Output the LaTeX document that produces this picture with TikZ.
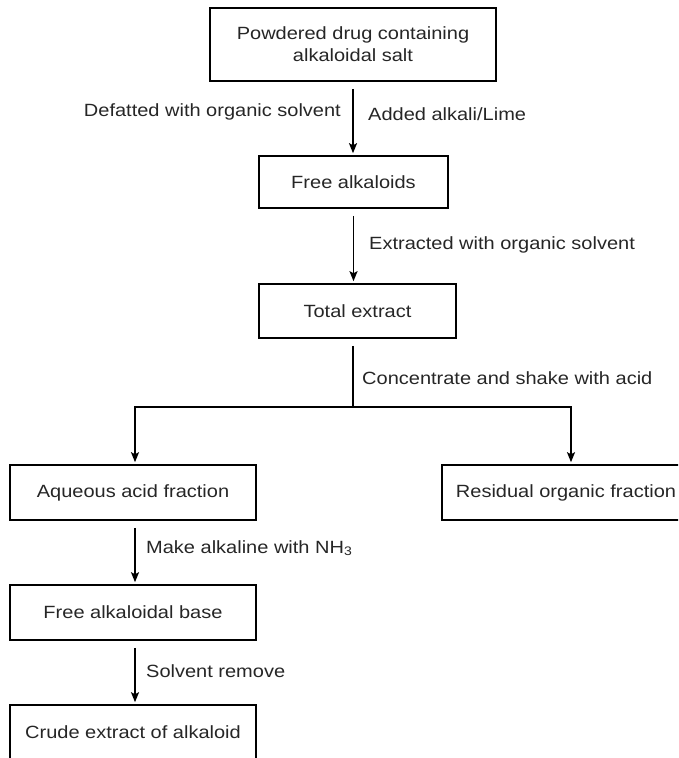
\documentclass[tikz,border=0pt]{standalone}
\usepackage{fontspec}
\setmainfont{Liberation Sans}[FakeStretch=1.13]
\usetikzlibrary{arrows.meta}

\begin{document}
\begin{tikzpicture}[x=1pt, y=-1pt,
  stepbox/.style={draw, line width=1.6pt, inner sep=0pt, align=center, text=black!85,
    font=\fontsize{17.7}{22}\selectfont},
  steplabel/.style={inner sep=0pt, text=black!85, font=\fontsize{17.7}{22}\selectfont},
  arr/.style={line width=1.6pt, -{Stealth[length=10pt, width=8pt, inset=2pt]}, shorten <=7pt, shorten >=2pt}]

\useasboundingbox (0,0) rectangle (678,758);
\clip (0,0) rectangle (678,758);

% boxes
\node[stepbox, minimum width=286pt, minimum height=73pt] (powder) at (353,44.5) {Powdered drug containing\\alkaloidal salt};
\node[stepbox, minimum width=189pt, minimum height=52pt] (free) at (353.5,182) {Free alkaloids};
\node[stepbox, minimum width=197pt, minimum height=54pt] (total) at (357.5,311) {Total extract};
\node[stepbox, minimum width=246pt, minimum height=55pt] (aqueous) at (133,492.5) {Aqueous acid fraction};
\node[stepbox, minimum width=248pt, minimum height=55pt] (residual) at (566,492.5) {Residual organic fraction};
\node[stepbox, minimum width=246pt, minimum height=55pt] (base) at (133,612.5) {Free alkaloidal base};
\node[stepbox, minimum width=246pt, minimum height=55pt, text depth=0pt] (crude) at (133,732.5) {Crude extract of alkaloid};

% arrows
\coordinate (split) at (353,407);
\draw[arr] (powder.south) -- (powder.south |- free.north);
\draw[arr] (free.south) -- (free.south |- total.north);
\draw[line width=1.6pt, shorten <=7pt] (total.south -| split) -- (split);
\draw[arr, shorten <=0pt] (split) -| ([xshift=2pt]aqueous.north);
\draw[arr, shorten <=0pt] (split) -| ([xshift=5pt]residual.north);
\draw[arr] ([xshift=2pt]aqueous.south) -- ([xshift=2pt]base.north);
\draw[arr] ([xshift=2pt]base.south) -- ([xshift=2pt]crude.north);

% labels
\node[steplabel, anchor=east] (defat) at (341,112) {Defatted with organic solvent};
\node[steplabel, anchor=west] (alkali) at (368,114) {Added alkali/Lime};
\node[steplabel, anchor=west] (extract) at (369,245) {Extracted with organic solvent};
\node[steplabel, anchor=west] (shake) at (362,378) {Concentrate and shake with acid};
\node[steplabel, anchor=west] (ammonia) at (146,548) {Make alkaline with NH\textsubscript{3}};
\node[steplabel, anchor=west] (remove) at (146,671) {Solvent remove};

\end{tikzpicture}
\end{document}
